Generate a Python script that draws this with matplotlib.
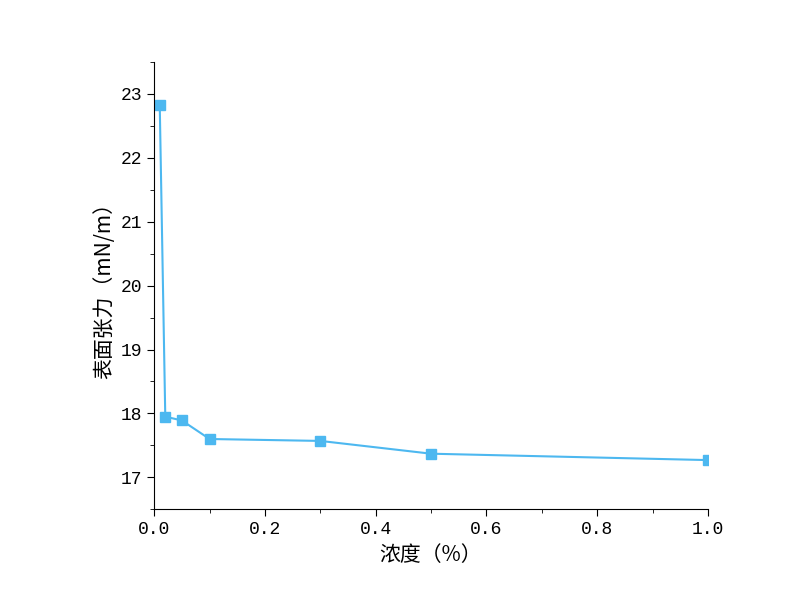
import matplotlib
matplotlib.use("Agg")
import matplotlib.pyplot as plt
from matplotlib.ticker import MultipleLocator

conc = [0.01, 0.02, 0.05, 0.1, 0.3, 0.5, 1.0]
tension = [22.83, 17.95, 17.89, 17.60, 17.57, 17.37, 17.27]
xticks = [0, 0.2, 0.4, 0.6, 0.8, 1.0]
xticklabels = ["0.0", "0.2", "0.4", "0.6", "0.8", "1.0"]

fig = plt.figure(figsize=(7.99, 6.02), dpi=100)
ax = fig.add_axes([0.193, 0.154, 0.693, 0.743])
color = "#4db8f0"
ax.plot(conc, tension, color=color, marker="s", markersize=7, linewidth=1.5)
ax.set_xlim(0, 1.0)
ax.set_ylim(16.5, 23.5)
ax.xaxis.set_minor_locator(MultipleLocator(0.1))
ax.yaxis.set_major_locator(MultipleLocator(1))
ax.yaxis.set_minor_locator(MultipleLocator(0.5))
for s in ["top", "right"]:
    ax.spines[s].set_visible(False)
ax.tick_params(which="major", direction="out", length=5, labelsize=13)
ax.tick_params(which="minor", direction="out", length=3)
ax.set_xticks(xticks)
ax.set_xticklabels(xticklabels)
for lab in ax.get_xticklabels() + ax.get_yticklabels():
    lab.set_fontfamily("Liberation Mono")
ax.set_xlabel("浓度（%）", fontfamily=["Noto Sans CJK SC", "DejaVu Sans"], fontsize=15)
ax.set_ylabel("表面张力（mN/m）", fontfamily=["Noto Sans CJK SC", "DejaVu Sans"], fontsize=15)
fig.savefig("out.png")
